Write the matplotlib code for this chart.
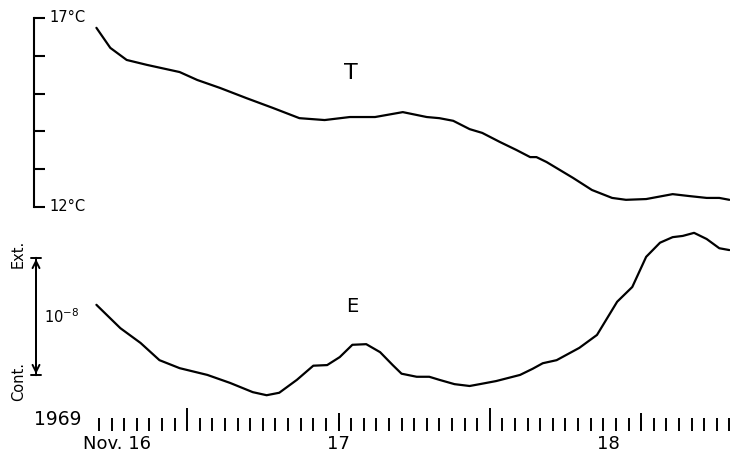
import numpy as np
import matplotlib
matplotlib.use("Agg")
import matplotlib.pyplot as plt

# time in hours after the first hourly tick (1969 Nov. 16)
t_hours = [-0.2, 0.9, 2.2, 3.8, 6.4, 7.8, 9.6, 11.7, 13.8, 15.9, 17.9, 19.9,
           21.9, 24.1, 26.0, 27.0, 28.1, 29.4, 30.4, 31.8, 33.1, 34.2, 34.7,
           35.5, 37.6, 39.1, 40.7, 41.8, 43.4, 45.5, 46.8, 48.2, 49.2, 50.0]
# temperature T (deg C)
temp = [16.74, 16.21, 15.89, 15.76, 15.57, 15.36, 15.15, 14.88, 14.62, 14.35,
        14.30, 14.38, 14.38, 14.51, 14.38, 14.35, 14.28, 14.06, 13.96, 13.72,
        13.51, 13.32, 13.32, 13.19, 12.77, 12.45, 12.24, 12.19, 12.21, 12.34,
        12.29, 12.24, 12.24, 12.19]

# strain E, relative units: +1 = Ext., 0 = 10^-8 mark, -1 = Cont.
e_hours = [-0.2, 1.7, 3.3, 4.8, 6.4, 8.6, 10.4, 12.2, 13.3, 14.3, 15.7, 17.0,
           18.1, 19.1, 20.1, 21.2, 22.3, 23.3, 24.0, 25.2, 26.2, 27.0, 28.2,
           29.4, 30.2, 31.5, 33.4, 34.4, 35.2, 36.3, 38.1, 39.5, 41.1, 42.3,
           43.4, 44.5, 45.5, 46.3, 47.2, 48.2, 49.2, 50.0]
strain = [0.19, -0.19, -0.43, -0.71, -0.84, -0.95, -1.08, -1.23, -1.28, -1.24,
          -1.03, -0.80, -0.79, -0.66, -0.46, -0.45, -0.58, -0.79, -0.93, -0.98,
          -0.98, -1.03, -1.10, -1.13, -1.10, -1.05, -0.95, -0.85, -0.76, -0.71,
          -0.51, -0.30, 0.24, 0.48, 0.97, 1.20, 1.29, 1.31, 1.36, 1.26, 1.11,
          1.08]

hour_ticks = np.arange(0, 51)
noon_ticks = [7, 31]
midnight_ticks = [19, 43]
day_labels = ["Nov. 16", "17", "18"]
day_label_pos = [1.4, 19.0, 40.4]

W, H = 730, 455
fig = plt.figure(figsize=(W / 100, H / 100), dpi=100)
fig.patch.set_facecolor("white")

xlim = (-5.15, 50.05)
lw = 1.6
line_kw = dict(color="black", lw=lw, solid_capstyle="round",
               solid_joinstyle="round")

# ---- top panel: temperature
ax1 = fig.add_axes([34 / W, (H - 220) / H, (W - 34) / W, 220 / H])
ax1.set_xlim(*xlim)
ax1.set_ylim(11.656, 17.476)
ax1.plot(t_hours, temp, **line_kw)
for s in ["top", "right", "bottom"]:
    ax1.spines[s].set_visible(False)
ax1.spines["left"].set_bounds(12, 17)
ax1.spines["left"].set_linewidth(1.5)
ax1.set_xticks([])
ax1.set_yticks(np.arange(12, 18))
ax1.set_yticklabels([])
ax1.tick_params(axis="y", direction="in", length=8, width=1.5)
ax1.text(-3.9, 17, "17°C", fontsize=10.5, va="center", ha="left")
ax1.text(-3.9, 12, "12°C", fontsize=10.5, va="center", ha="left")
ax1.text(20.0, 15.54, "T", fontsize=16, ha="center", va="center")

# ---- bottom panel: strain
ax2 = fig.add_axes([34 / W, 0, (W - 34) / W, 235 / H])
ax2.set_xlim(*xlim)
ax2.set_ylim(-2.252, 1.569)
ax2.plot(e_hours, strain, **line_kw)
for s in ["top", "right", "left", "bottom"]:
    ax2.spines[s].set_visible(False)
ax2.set_yticks([])
ax2.spines["bottom"].set_position(("data", -1.862))
ax2.set_xticks(noon_ticks)
ax2.set_xticklabels([])
ax2.set_xticks(hour_ticks, minor=True)
ax2.tick_params(axis="x", which="major", direction="in", length=16.5, width=1.4)
ax2.tick_params(axis="x", which="minor", direction="in", length=9.4, width=1.4)

sec = ax2.secondary_xaxis(0.102)
sec.set_xticks(midnight_ticks)
sec.set_xticklabels([])
sec.tick_params(axis="x", direction="in", length=13, width=1.4)
sec.spines["bottom"].set_visible(False)

ax2.annotate("", xy=(-4.99, 1.0), xytext=(-4.99, -1.0),
             arrowprops=dict(arrowstyle="|-|,widthA=0.35,widthB=0.35",
                             lw=1.4, color="black"), annotation_clip=False)
ax2.annotate("", xy=(-4.99, 0.98), xytext=(-4.99, -0.98),
             arrowprops=dict(arrowstyle="<->,head_length=0.5,head_width=0.25",
                             lw=1.4, color="black"), annotation_clip=False)
ax2.text(-6.4, 1.02, "Ext.", rotation=90, fontsize=10.5, ha="center",
         va="center")
ax2.text(-6.4, -1.05, "Cont.", rotation=90, fontsize=10.5, ha="center",
         va="center")
ax2.text(-3.0, 0.0, "10$^{-8}$", fontsize=10.5, ha="center", va="center")
ax2.text(20.1, 0.17, "E", fontsize=14, ha="center", va="center")
ax2.text(-3.25, -1.68, "1969", fontsize=13.5, ha="center", va="center")
for lab, pos in zip(day_labels, day_label_pos):
    ax2.text(pos, -2.07, lab, fontsize=13, ha="center", va="center")

fig.savefig("out.png", dpi=100, facecolor="white")
